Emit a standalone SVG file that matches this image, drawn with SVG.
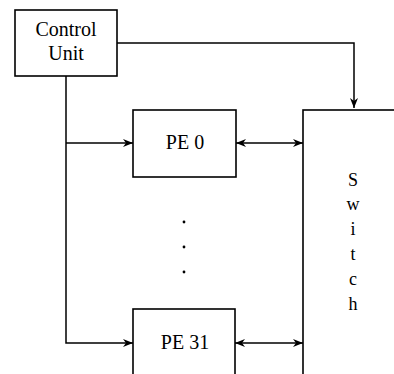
<svg xmlns="http://www.w3.org/2000/svg" width="394" height="374" viewBox="0 0 394 374">
<style>
.box{fill:#fff;stroke:#000;stroke-width:1.6}
.ln{fill:none;stroke:#000;stroke-width:1.5}
.t{font-family:"Liberation Serif","Times New Roman",serif;font-size:20px;fill:#000;text-anchor:middle}
.s{font-family:"Liberation Serif","Times New Roman",serif;font-size:18px;fill:#000;text-anchor:middle}
</style>
<defs>
<marker id="ah" viewBox="0 0 10 8" refX="10" refY="4" markerWidth="10" markerHeight="8" markerUnits="userSpaceOnUse" orient="auto-start-reverse">
<path d="M0,0 L10,4 L0,8 L3,4 z" fill="#000"/>
</marker>
</defs>
<rect width="394" height="374" fill="#fff"/>
<g id="connectors">
<path class="ln" d="M117,43 H354 V108" marker-end="url(#ah)"/>
<path class="ln" d="M66,76 V343 H133" marker-end="url(#ah)"/>
<path class="ln" d="M66,143 H133" marker-end="url(#ah)"/>
<path class="ln" d="M236,143 H303" marker-start="url(#ah)" marker-end="url(#ah)"/>
<path class="ln" d="M235,343 H303" marker-start="url(#ah)" marker-end="url(#ah)"/>
</g>
<g id="control-unit">
<rect class="box" x="15" y="10" width="102" height="66"/>
<text class="t" x="66" y="36">Control</text>
<text class="t" x="66" y="60">Unit</text>
</g>
<g id="pe0">
<rect class="box" x="133" y="110" width="103" height="67"/>
<text class="t" x="185" y="149">PE 0</text>
</g>
<g id="dots">
<circle cx="184" cy="222" r="1.4" fill="#000"/>
<circle cx="184" cy="247" r="1.4" fill="#000"/>
<circle cx="184" cy="272" r="1.4" fill="#000"/>
</g>
<g id="pe31">
<rect class="box" x="133" y="309" width="102" height="100"/>
<text class="t" x="185" y="349">PE 31</text>
</g>
<g id="switch">
<rect class="box" x="303" y="110" width="120" height="300"/>
<text class="s" x="353" y="186">S</text>
<text class="s" x="353" y="210">w</text>
<text class="s" x="353" y="235">i</text>
<text class="s" x="353" y="260">t</text>
<text class="s" x="353" y="285">c</text>
<text class="s" x="353" y="310">h</text>
</g>
</svg>
